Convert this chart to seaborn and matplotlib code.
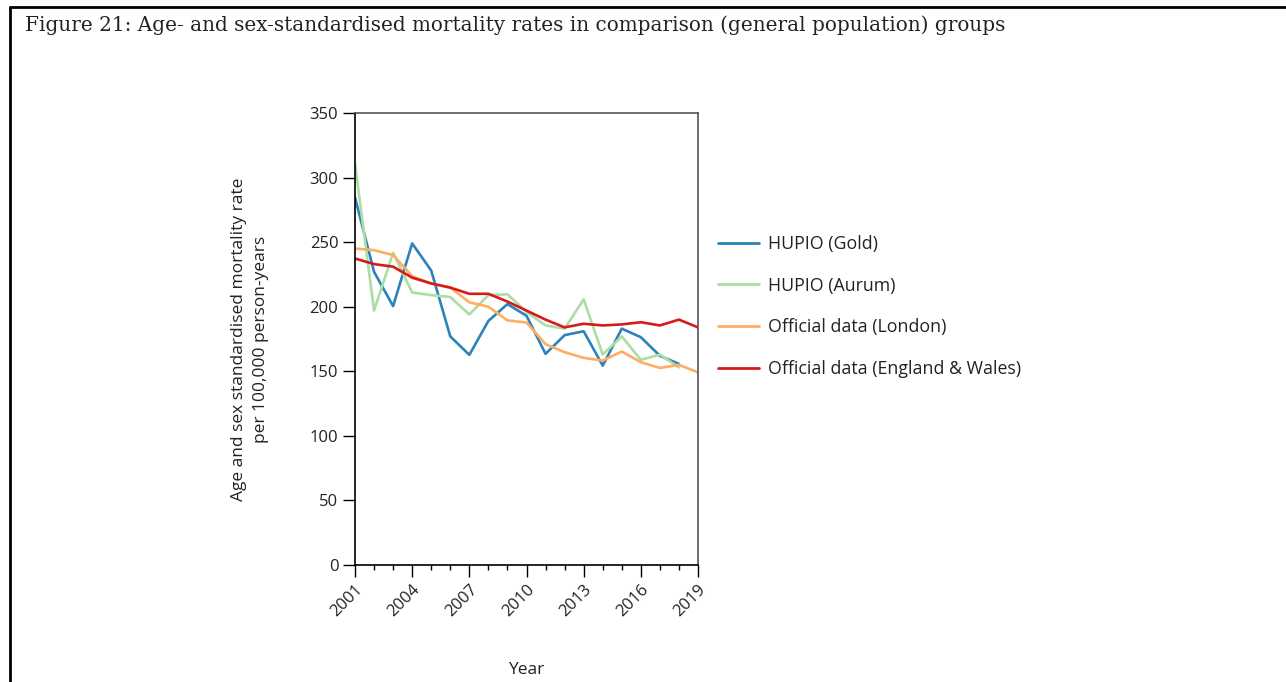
import matplotlib
matplotlib.use("Agg")
import matplotlib.pyplot as plt
from matplotlib.lines import Line2D
from matplotlib.ticker import MultipleLocator
import seaborn as sns
import pandas as pd
import numpy as np

years = list(range(2001, 2020))
gold = [284.5, 227, 200.5, 249, 228, 177, 162.7, 189, 202, 193, 163.5, 178, 181, 154.4, 183, 176.4, 162, 155.7]
aurum = [311, 197, 241.7, 211, 209, 207.5, 194, 209, 209.6, 196, 185.5, 183, 205.7, 163, 177, 158.8, 163, 153]
london = [245, 243.8, 240, 223.6, 218, 214.8, 203.4, 200, 189.4, 187.8, 171, 164.8, 160.4, 158.3, 165.3, 157, 152.6, 155, 149.2]
england_wales = [237.3, 233, 231, 222.5, 218, 214.8, 210, 210, 204, 197, 190, 184, 186.8, 185.5, 186.3, 188, 185.5, 190, 184]

series_names = ["HUPIO (Gold)", "HUPIO (Aurum)", "Official data (London)", "Official data (England & Wales)"]
series_values = [gold, aurum, london, england_wales]
colors = ["#2b83ba", "#abdda4", "#fdae61", "#d7191c"]

rows = []
for name, vals in zip(series_names, series_values):
    for y, v in zip(years, vals):
        rows.append({"Year": y, "Rate": v, "Series": name})
df = pd.DataFrame(rows)

sns.set_style("white")
plt.rcParams["font.family"] = ["Open Sans", "DejaVu Sans"]

fig = plt.figure(figsize=(12.86, 6.82), dpi=100)
ax = fig.add_axes([355/1286, 1-565/682, (698-355)/1286, (565-113)/682])

sns.lineplot(data=df, x="Year", y="Rate", hue="Series", hue_order=series_names,
             palette=colors, linewidth=1.9, ax=ax, legend=False)

ax.set_xlim(2001, 2019)
ax.set_ylim(0, 350)
ax.set_xticks(list(range(2001, 2020, 3)))
ax.xaxis.set_minor_locator(MultipleLocator(1))
ax.set_yticks(list(range(0, 351, 50)))
ax.tick_params(axis="both", which="major", direction="out", length=8.5, width=1, color="black",
               labelsize=12, labelcolor="#222222", bottom=True, left=True)
ax.tick_params(axis="x", which="minor", direction="out", length=3.5, width=1, color="black", bottom=True)
for lab in ax.get_xticklabels():
    lab.set_rotation(45)
    lab.set_ha("right")
    lab.set_rotation_mode("anchor")

for side in ["left", "bottom"]:
    ax.spines[side].set_color("black")
    ax.spines[side].set_linewidth(1.2)
for side in ["top", "right"]:
    ax.spines[side].set_color("#555555")
    ax.spines[side].set_linewidth(1.2)
    ax.spines[side].set_visible(True)

ax.set_xlabel("Year", fontsize=12.5, color="#222222", labelpad=30)
ax.set_ylabel("Age and sex standardised mortality rate\nper 100,000 person-years", fontsize=12.5,
              color="#222222", labelpad=29, linespacing=1.5)

handles = [Line2D([0], [0], color=c, lw=2) for c in colors]
fig.legend(handles, series_names, loc="upper left", bbox_to_anchor=(702/1286, 1-219/682),
           frameon=False, fontsize=12.8, labelspacing=1.33, handlelength=2.3, handletextpad=0.5,
           labelcolor="#222222")

fig.text(25/1286, 1-25/682, "Figure 21: Age- and sex-standardised mortality rates in comparison (general population) groups",
         fontsize=14.4, family="DejaVu Serif", va="center", ha="left", color="#222222")

fig.add_artist(Line2D([9.5/1286, 1], [1-7/682, 1-7/682], transform=fig.transFigure, color="black", lw=2))
fig.add_artist(Line2D([9.5/1286, 9.5/1286], [0, 1-7/682], transform=fig.transFigure, color="black", lw=2))

fig.savefig("out.png", dpi=100)
